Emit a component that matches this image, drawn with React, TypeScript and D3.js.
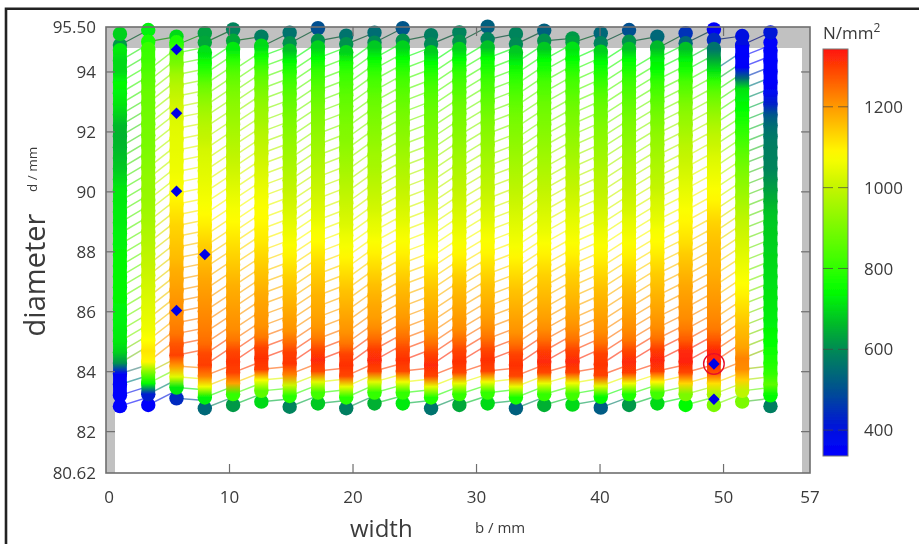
import React from "react";
import * as d3 from "d3";

const widths = [1.13,3.42,5.71,8.0,10.29,12.58,14.87,17.16,19.45,21.74,24.03,26.32,28.61,30.9,33.19,35.48,37.77,40.06,42.35,44.64,46.93,49.22,51.51,53.8];
const bottomDiameter = [82.85,82.89,83.11,82.78,82.89,83.0,82.83,82.94,82.78,82.94,82.94,82.78,82.89,82.94,82.78,82.89,82.9,82.8,82.89,82.94,82.89,82.89,83.0,82.85];
const rowOffsets = [0,0.36,0.72,1.08,1.44,1.8,2.16,2.52,2.88,3.24,3.6,3.96,4.32,4.68,5.04,5.4,5.76,6.12,6.48,6.84,7.2,7.56,7.92,8.28,8.64,9.0,9.36,9.72,10.08,10.44,10.8,11.16,11.52,11.88];
const secondDiameter = [94.9,95.01,94.9,94.98,95.04,94.84,94.96,95.04,94.93,94.98,95.04,94.93,95.01,95.09,94.93,95.04,94.98,94.96,95.01,94.79,94.96,95.07,94.9,94.98];
const topDiameter = [95.27,95.4,95.18,95.29,95.42,95.18,95.31,95.46,95.21,95.31,95.46,95.23,95.32,95.51,95.27,95.38,95.12,95.29,95.4,95.18,95.29,95.42,95.2,95.32];

const c0 = [340,340,345,360,610,690,720,725,730,730,735,735,735,735,735,730,730,725,725,720,720,700,680,670,660,655,660,690,715,730,740,700,700,720,620,690];
const c1 = [345,420,740,900,1090,1110,1080,1060,1050,1040,1030,1020,1010,1000,990,980,970,960,950,940,935,930,920,910,900,895,890,885,880,875,860,840,820,810,770,730];
const c2 = [440,720,1040,1200,1295,1275,1240,1225,1215,1205,1195,1185,1175,1160,1150,1140,1130,1115,1100,1085,1070,1060,1055,1050,1045,1040,1030,1020,1000,980,950,900,860,780,740,700];
const c3 = [540,730,1060,1230,1300,1290,1250,1235,1225,1215,1205,1195,1185,1170,1155,1140,1120,1100,1085,1070,1060,1050,1040,1030,1020,1000,985,965,940,910,870,810,760,710,640,630];
const c4 = [620,800,1190,1295,1310,1290,1240,1215,1205,1195,1185,1175,1160,1145,1130,1115,1100,1085,1070,1055,1040,1025,1010,995,980,965,950,935,920,900,875,840,790,720,640,590];
const c5 = [700,860,1070,1300,1315,1295,1235,1210,1200,1190,1180,1165,1150,1135,1120,1105,1095,1085,1075,1065,1050,1035,1020,1005,990,975,955,940,920,895,865,820,760,700,620,580];
const c6 = [590,790,1010,1230,1310,1300,1250,1210,1195,1180,1165,1150,1135,1115,1095,1075,1060,1045,1030,1015,1000,985,970,955,940,925,910,895,875,855,825,790,740,670,610,560];
const c7 = [680,820,1040,1290,1320,1290,1235,1205,1190,1180,1170,1155,1140,1125,1105,1085,1070,1050,1035,1020,1005,990,975,960,945,930,915,900,880,860,830,795,745,690,610,500];
const c8 = [580,790,1050,1290,1315,1295,1240,1210,1195,1180,1165,1150,1130,1110,1090,1070,1055,1035,1020,1005,990,975,960,945,930,915,905,890,875,860,835,810,770,690,610,560];
const c9 = [650,800,1040,1290,1320,1300,1250,1215,1195,1185,1170,1155,1135,1115,1095,1075,1055,1040,1020,1005,990,975,960,950,935,920,905,890,875,850,825,790,740,680,600,550];
const c10 = [720,800,1060,1290,1315,1290,1250,1220,1200,1185,1170,1155,1135,1115,1095,1075,1060,1040,1025,1010,995,980,965,950,935,920,905,890,870,850,825,790,745,690,610,510];
const c11 = [560,780,1050,1295,1320,1295,1245,1210,1195,1180,1165,1150,1130,1110,1085,1070,1055,1040,1020,1005,990,975,960,945,930,915,900,885,870,850,825,790,745,685,600,580];
const c12 = [640,800,1050,1290,1315,1295,1250,1215,1200,1185,1170,1155,1135,1110,1090,1070,1055,1040,1025,1010,995,980,965,950,935,920,905,890,875,850,825,795,745,690,610,590];
const c13 = [700,800,1060,1295,1315,1290,1245,1215,1195,1180,1165,1150,1130,1110,1090,1075,1060,1040,1025,1010,995,980,965,950,935,920,905,885,865,840,815,780,745,670,590,530];
const c14 = [530,770,1050,1290,1315,1295,1245,1210,1195,1180,1165,1150,1130,1110,1090,1070,1055,1040,1025,1010,995,980,965,950,935,920,905,890,870,845,815,780,730,680,600,590];
const c15 = [650,800,1050,1290,1320,1300,1250,1215,1195,1180,1165,1150,1135,1115,1095,1075,1055,1040,1025,1010,995,980,965,950,935,920,905,890,875,850,825,780,745,680,610,530];
const c16 = [700,820,1060,1295,1320,1295,1245,1215,1195,1180,1165,1150,1135,1115,1095,1075,1060,1045,1030,1015,1000,985,970,955,940,925,910,895,875,850,825,790,745,710,630,620];
const c17 = [520,740,1040,1295,1310,1295,1245,1215,1200,1185,1170,1155,1135,1115,1095,1075,1060,1040,1025,1010,995,985,970,955,940,925,910,890,875,850,815,780,745,690,590,540];
const c18 = [620,780,1060,1300,1320,1290,1240,1215,1200,1185,1170,1155,1135,1115,1095,1075,1060,1045,1025,1010,995,980,965,950,935,920,905,885,865,840,815,780,745,670,610,500];
const c19 = [700,820,1090,1300,1325,1300,1245,1215,1200,1185,1170,1155,1140,1120,1100,1085,1070,1050,1035,1020,1000,985,970,955,940,925,905,885,860,830,795,750,725,660,620,540];
const c20 = [740,900,1130,1290,1330,1320,1270,1235,1215,1205,1195,1185,1170,1155,1140,1120,1105,1090,1075,1060,1045,1030,1015,1000,985,965,945,925,900,865,830,775,730,670,540,450];
const c21 = [900,960,1120,1280,1330,1325,1275,1235,1220,1210,1200,1190,1180,1170,1165,1155,1145,1130,1110,1090,1075,1060,1045,1030,1010,990,965,935,900,860,800,710,640,560,440,350];
const c22 = [900,990,1135,1215,1225,1190,1170,1155,1135,1115,1095,1080,1065,1050,1035,1020,1005,990,970,950,930,910,885,860,830,800,775,750,730,710,540,350,345,345,400,400];
const c23 = [580,740,860,800,780,760,745,735,725,720,715,710,705,700,695,690,685,680,670,650,630,610,590,585,580,570,550,510,430,370,345,345,340,345,345,410];
const columnValues = [c0,c1,c2,c3,c4,c5,c6,c7,c8,c9,c10,c11,c12,c13,c14,c15,c16,c17,c18,c19,c20,c21,c22,c23];

const markerWidth = [5.71,5.71,5.71,5.71,8.0,49.22,49.22];
const markerDiameter = [94.75,92.62,90.02,86.04,87.91,84.26,83.08];
const bestWidth = 49.22;
const bestDiameter = 84.26;

const xTicks = [0,10,20,30,40,50,57];
const yTicks = [82,84,86,88,90,92,94];
const yEnds = [{ v: 95.5, t: "95.50" }, { v: 80.62, t: "80.62" }];
const legendTicks = [400,600,800,1000,1200];
const colorDomain = [336,400,500,600,650,745,800,1000,1081,1200,1343];
const colorRange = ["#0000ff","#0010e0","#005090","#008a55","#00b030","#00ff00","#30ff00","#c4f500","#ffff00","#ff9a00","#ff1508"];

const x = d3.scaleLinear().domain([0, 57]).range([106, 810]);
const y = d3.scaleLinear().domain([80.62, 95.5]).range([473, 27]);
const legendY = d3.scaleLinear().domain([336, 1343]).range([456, 49]);
const color = d3.scaleLinear<string>().domain(colorDomain).range(colorRange).interpolate(d3.interpolateRgb);

const font = "'Open Sans', sans-serif";
const txt = "#3a3a3a";
const axisC = "#6e6e6e";
const R = 7.2;

const dOf = (c: number, k: number) =>
  k < rowOffsets.length ? bottomDiameter[c] + rowOffsets[k] : k === rowOffsets.length ? secondDiameter[c] : topDiameter[c];

export default function App() {
  const dots: { c: number; k: number; v: number }[][] = columnValues.map((vals, c) =>
    vals.map((v, k) => ({ c, k, v })).sort((a, b) => a.v - b.v)
  );
  const hatch: JSX.Element[] = [];
  columnValues.forEach((vals, c) => {
    if (c === widths.length - 1) return;
    rowOffsets.forEach((_, k) => {
      const rise = k < 4 ? 0.26 : 0.52;
      const d1 = dOf(c, k);
      const d2 = bottomDiameter[c + 1] + rowOffsets[k] + rise;
      if (d2 > secondDiameter[c + 1]) return;
      const col = d3.interpolateRgb(color(vals[k]), color(columnValues[c + 1][k]))(0.5);
      hatch.push(
        <line key={`h${c}-${k}`} x1={x(widths[c])} y1={y(d1)} x2={x(widths[c + 1])} y2={y(d2)} stroke={col} strokeWidth={1.5} opacity={0.6} />
      );
    });
    hatch.push(
      <line key={`t${c}`} x1={x(widths[c])} y1={y(secondDiameter[c])} x2={x(widths[c + 1])} y2={y(topDiameter[c + 1])} stroke={d3.interpolateRgb(color(vals[34]), "#333")(0.5)} strokeWidth={1.2} opacity={0.8} />
    );
  });
  const bands: JSX.Element[] = [];
  columnValues.forEach((vals, c) => {
    rowOffsets.forEach((_, k) => {
      if (k < 1 || k > 32) return;
      const top = y(dOf(c, k + 1));
      const bottom = y(dOf(c, k));
      const lo = color(vals[k]);
      const hi = color(vals[k + 1]);
      const id = `g${c}-${k}`;
      bands.push(
        <g key={id}>
          <linearGradient id={id} gradientUnits="userSpaceOnUse" x1={0} x2={0} y1={bottom} y2={top}>
            <stop offset="0%" stopColor={lo} />
            <stop offset="100%" stopColor={hi} />
          </linearGradient>
          <rect x={x(widths[c]) - R + 0.3} width={2 * R - 0.6} y={top - 0.3} height={bottom - top + 0.6} fill={`url(#${id})`} />
        </g>
      );
    });
  });
  const gradStops = d3.range(0, 41).map((i) => {
    const v = 336 + (i / 40) * (1343 - 336);
    return <stop key={i} offset={`${(i / 40) * 100}%`} stopColor={color(v)} />;
  });
  const diamond = d3.symbol().type(d3.symbolDiamond2 ?? d3.symbolSquare).size(85);
  return (
    <svg width={919} height={544} style={{ position: "absolute", left: 0, top: 0, display: "block", background: "#fff" }} fontFamily={font}>
      <defs>
        <filter id="soft" x="0" y="0" width="100%" height="100%"><feGaussianBlur stdDeviation="0.55" /></filter>
        <linearGradient id="cb" x1="0" y1="1" x2="0" y2="0">{gradStops}</linearGradient>
      </defs>
      <g filter="url(#soft)">
        <rect x={0} y={0} width={919} height={544} fill="#fff" />
        <path d="M6 544V8.8H919" fill="none" stroke="#222" strokeWidth={2.6} />
        <rect x={x(0)} y={y(95.5)} width={x(57) - x(0)} height={y(80.62) - y(95.5)} fill="#fff" />
        <path d={`M${x(0)} ${y(95.5)}H${x(57)}V${y(80.62)}H${x(57) - 8}V${y(95.5) + 21}H${x(0) + 9}V${y(80.62)}H${x(0)}Z`} fill="#c1c1c1" />
        <g>{hatch}</g>
        {dots.map((col) =>
          col.map((p) => (
            <circle key={`${p.c}-${p.k}`} cx={x(widths[p.c])} cy={y(dOf(p.c, p.k))} r={R} fill={color(p.v)} />
          ))
        )}
        <g>{bands}</g>
        <rect x={x(0)} y={y(95.5)} width={x(57) - x(0)} height={y(80.62) - y(95.5)} fill="none" stroke={axisC} strokeWidth={1.6} />
        {yTicks.map((t) => (
          <g key={t}>
            <line x1={x(0)} x2={x(0) + 9} y1={y(t)} y2={y(t)} stroke={axisC} strokeWidth={1.2} />
            <line x1={x(57) - 9} x2={x(57)} y1={y(t)} y2={y(t)} stroke={axisC} strokeWidth={1.2} />
          </g>
        ))}
        {xTicks.filter((t) => t > 0 && t < 57).map((t) => (
          <g key={t}>
            <line x1={x(t)} x2={x(t)} y1={y(80.62)} y2={y(80.62) - 9} stroke={axisC} strokeWidth={1.2} />
            <line x1={x(t)} x2={x(t)} y1={y(95.5)} y2={y(95.5) + 9} stroke={axisC} strokeWidth={1.2} />
          </g>
        ))}
        {markerWidth.map((w, i) => (
          <path key={i} d={diamond() as string} transform={`translate(${x(w)},${y(markerDiameter[i])})`} fill="#0000e6" />
        ))}
        <circle cx={x(bestWidth)} cy={y(bestDiameter)} r={10.3} fill="none" stroke="#e8102a" strokeWidth={1.4} />
        <rect x={823} y={49} width={25} height={407} fill="url(#cb)" stroke="#777" strokeWidth={1} />
        {legendTicks.map((t) => (
          <g key={t}>
            <line x1={823} x2={833} y1={legendY(t)} y2={legendY(t)} stroke="#444" strokeOpacity={0.7} />
            <line x1={838} x2={848} y1={legendY(t)} y2={legendY(t)} stroke="#444" strokeOpacity={0.7} />
          </g>
        ))}
        <g fill={txt} fontSize={17}>
          {yTicks.map((t) => (
            <text key={t} x={96} y={y(t)} dy="0.36em" textAnchor="end">{t}</text>
          ))}
          {yEnds.map((e) => (
            <text key={e.t} x={96} y={y(e.v)} dy="0.36em" textAnchor="end">{e.t}</text>
          ))}
          {xTicks.map((t) => (
            <text key={t} x={x(t) + (t === 0 ? 3 : 0)} y={497} dy="0.36em" textAnchor="middle">{t}</text>
          ))}
          {legendTicks.map((t) => (
            <text key={t} x={864} y={legendY(t)} dy="0.36em">{t}</text>
          ))}
          <text x={823} y={39}>N/mm<tspan dy={-7} fontSize={12}>2</tspan></text>
          <text x={475} y={533} fontSize={15}>b / mm</text>
          <text transform="translate(37,192) rotate(-90)" fontSize={13.5} textAnchor="start">d / mm</text>
          <text x={350} y={537} fontSize={24}>width</text>
          <text transform="translate(45,275) rotate(-90)" fontSize={29} textAnchor="middle">diameter</text>
        </g>
      </g>
    </svg>
  );
}
